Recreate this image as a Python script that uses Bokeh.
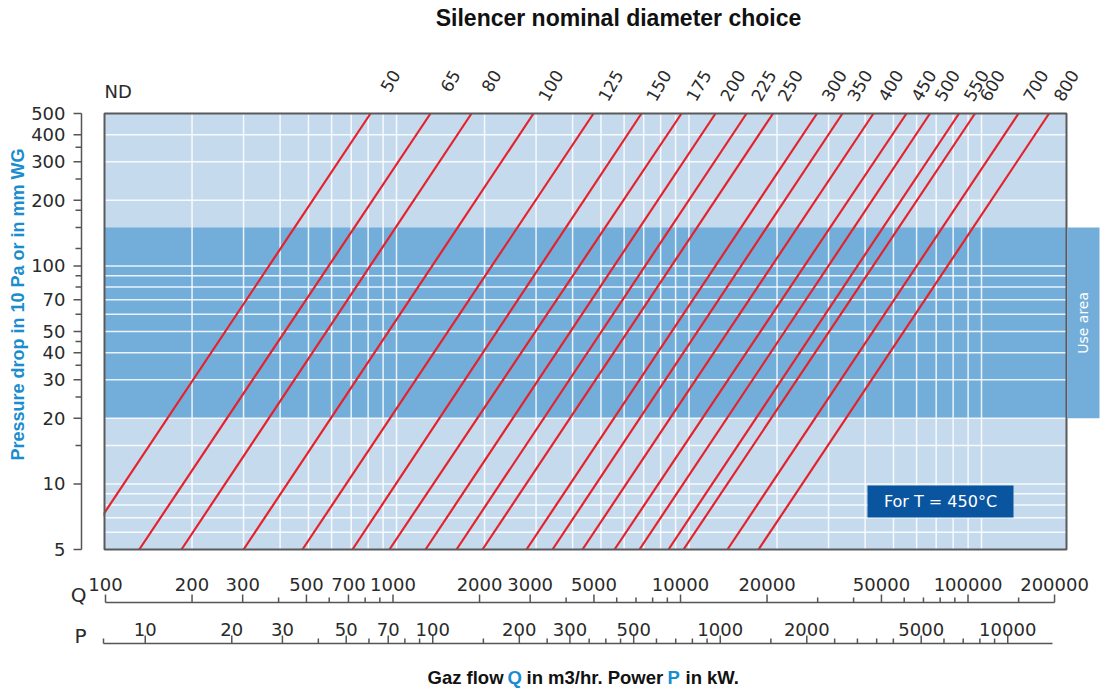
import math
from bokeh.plotting import figure
from bokeh.models import Range1d, LogScale
from bokeh.core.properties import value
from bokeh.embed import file_html
from bokeh.resources import INLINE

# ---------------- data ----------------
nd_labels = ["50", "65", "80", "100", "125", "150", "175", "200", "225", "250",
             "300", "350", "400", "450", "500", "550", "600", "700", "800"]
# gas flow (m3/hr) where each ND line meets pressure 5 and pressure 500
q_at_p5 = [82.8, 132, 184, 300, 477, 707, 946, 1257, 1604, 1968,
           2783, 3415, 4324, 5564, 6773, 8510, 9577, 13540, 17290]
q_at_p500 = [815, 1307, 1805, 2941, 4716, 6879, 9428, 12320, 15730, 19380,
             27390, 33480, 42730, 55410, 66660, 83780, 95020, 133800, 170200]
p_low, p_high = 5, 500
use_area = (20, 150)

y_major = [5, 10, 20, 30, 40, 50, 70, 100, 200, 300, 400, 500]
y_minor = [15, 25, 35, 45, 60, 80, 90, 120, 150, 180, 250, 350]
y_grid = [6, 7, 8, 9, 10, 15, 20, 30, 40, 50, 60, 70, 80, 90, 100, 200, 300, 400]
x_grid = [200, 300, 400, 500, 600, 700, 800, 900, 1000,
          2000, 3000, 4000, 5000, 6000, 7000, 8000, 9000, 10000,
          20000, 30000, 40000, 50000, 60000, 70000, 80000, 90000, 100000]

q_major = [100, 200, 300, 500, 700, 1000, 2000, 3000, 5000, 10000, 20000, 50000, 100000, 200000]
q_minor = [400, 600, 800, 900, 4000, 6000, 7000, 8000, 9000, 30000, 40000,
           60000, 70000, 80000, 90000, 150000]
p_major = [10, 20, 30, 50, 70, 100, 200, 300, 500, 1000, 2000, 5000, 10000]
p_minor = [40, 60, 80, 90, 150, 250, 350, 400, 450, 600, 700, 800, 900,
           1500, 2500, 3000, 3500, 4000, 6000, 7000, 8000, 9000]
q_bounds = (100, 200000)

# ---------------- layout (screen geometry) ----------------
W, H = 1100, 688
X100_PX, X_PPD = 103.5, 292.5      # main flow scale: px of Q=100, px per decade
Y5_PX, Y_PPD = 549.0, 218.0        # pressure scale: px of 5, px per decade
QAX_100_PX, QAX_PPD = 105.0, 287.5  # Q ruler under the chart
PAX_10_PX = 144.75                  # P ruler: px of P=10 (same px per decade)


def qx(px):
    return 10 ** (2 + (px - X100_PX) / X_PPD)


def py(px_y):
    return 5 * 10 ** ((Y5_PX - px_y) / Y_PPD)


def px_p(px):
    return 10 ** (1 + (px - PAX_10_PX) / QAX_PPD)


def px_q(px):
    return 10 ** (2 + (px - QAX_100_PX) / QAX_PPD)


plot_x = (qx(104), qx(1066))
y_axis_x = qx(81)
q_axis_y = py(602)
p_axis_y = py(643)
p_bounds = (px_p(103), px_p(1052))

LIGHT = "#C6DAEE"
BAND = "#73AEDB"
RED = "#E5222B"
BLUE_TXT = "#1A8DCF"
DARK_BOX = "#0A559F"
TXT = "#2a2a2a"
AXC = "#555555"
TICKFONT = "DejaVu Sans"
BOLDFONT = "Liberation Sans"

p = figure(width=W, height=H, output_backend="svg", toolbar_location=None,
           x_range=Range1d(qx(0), qx(W)), y_range=Range1d(py(H), py(0)),
           x_axis_type="log", y_axis_type="log",
           x_axis_location=None, y_axis_location=None,
           min_border_left=0, min_border_right=0, min_border_top=0, min_border_bottom=0)
p.xgrid.visible = False
p.ygrid.visible = False
p.background_fill_color = "white"
p.border_fill_color = "white"
p.outline_line_color = None

p.extra_x_ranges = {"q": Range1d(px_q(0), px_q(W)), "p": Range1d(px_p(0), px_p(W))}
p.extra_x_scales = {"q": LogScale(), "p": LogScale()}


def txt(x, y, s, size, color=TXT, font=TICKFONT, bold=False, align="center",
        baseline="middle", angle=0.0, xo=0, yo=0, rng="default"):
    p.text(x=x, y=y, text=s, x_range_name=rng, angle=angle, x_offset=xo, y_offset=yo,
           text_font=value(font), text_font_size=value(size), text_color=color,
           text_font_style=value("bold" if bold else "normal"),
           text_align=align, text_baseline=baseline)


# plot area background and band
p.quad(left=[plot_x[0]], right=[plot_x[1]], bottom=[p_low], top=[p_high],
       fill_color=LIGHT, line_color=None)
p.quad(left=[plot_x[0]], right=[plot_x[1]], bottom=[use_area[0]], top=[use_area[1]],
       fill_color=BAND, line_color=None)

# grid lines
p.segment(x0=x_grid, y0=p_low, x1=x_grid, y1=p_high, line_color="white",
          line_alpha=0.85, line_width=1.5)
p.segment(x0=plot_x[0], y0=y_grid, x1=plot_x[1], y1=y_grid, line_color="white",
          line_alpha=0.85, line_width=1.5)

# ND lines
p.segment(x0=q_at_p5, y0=p_low, x1=q_at_p500, y1=p_high, line_color=RED, line_width=2.2)

# white mask left of the plot area (the smallest ND line starts outside it)
p.quad(left=[qx(0)], right=[plot_x[0] * 10 ** (-1 / X_PPD)], bottom=[p_low], top=[p_high],
       fill_color="white", line_color=None)
# frame border
p.quad(left=[plot_x[0]], right=[plot_x[1]], bottom=[p_low], top=[p_high],
       fill_color=None, line_color="#5a5a5a", line_width=2)

# use area side box
p.quad(left=[plot_x[1] * 10 ** (1 / X_PPD)], right=[qx(1099)], bottom=[use_area[0]], top=[use_area[1]],
       fill_color=BAND, line_color=None)
txt([qx(1082)], [math.sqrt(use_area[0] * use_area[1])], ["Use area"], "14px", color="white",
    angle=math.pi / 2)

# temperature box
p.quad(left=[qx(867)], right=[qx(1013)], bottom=[py(517)], top=[py(485)],
       fill_color=DARK_BOX, line_color=None)
txt([qx(940)], [py(501)], ["For T = 450°C"], "16px", color="white")

# ND labels
txt(q_at_p500, [p_high] * len(q_at_p500), nd_labels, "17px", align="right",
    baseline="middle", angle=math.pi / 3, xo=25, yo=-42)
txt([plot_x[0]], [py(90.5)], ["ND"], "18px", align="left", baseline="middle")

# y axis
p.segment(x0=[y_axis_x], y0=[p_low], x1=[y_axis_x], y1=[p_high], line_color=AXC, line_width=1.5)
p.ray(x=[y_axis_x] * len(y_major), y=y_major, length=8, length_units="screen", angle=math.pi,
      line_color=AXC, line_width=1.5)
p.ray(x=[y_axis_x] * len(y_minor), y=y_minor, length=6, length_units="screen", angle=math.pi,
      line_color=AXC, line_width=1.5)
txt([y_axis_x] * len(y_major), y_major, [str(v) for v in y_major], "18px", align="right",
    baseline="middle", xo=-16)


# Q and P rulers
def ruler(rng, bounds, loc, major, minor, yo):
    p.segment(x0=[bounds[0]], y0=[loc], x1=[bounds[1]], y1=[loc], x_range_name=rng,
              line_color=AXC, line_width=1.5)
    p.ray(x=major, y=[loc] * len(major), length=8, length_units="screen", angle=math.pi / 2,
          x_range_name=rng, line_color=AXC, line_width=1.5)
    p.ray(x=minor, y=[loc] * len(minor), length=5, length_units="screen", angle=math.pi / 2,
          x_range_name=rng, line_color=AXC, line_width=1.5)
    txt(major, [loc] * len(major), [str(v) for v in major], "18px", align="center",
        baseline="middle", yo=yo, rng=rng)


ruler("q", q_bounds, q_axis_y, q_major, q_minor, -18)
ruler("p", p_bounds, p_axis_y, p_major, p_minor + [p_bounds[0]], -14.5)
txt([qx(86)], [py(594)], ["Q"], "20px", align="right", baseline="middle")
txt([qx(86)], [py(635)], ["P"], "20px", align="right", baseline="middle")

# title
txt([qx(618)], [py(17)], ["Silencer nominal diameter choice"], "23px", color="#111",
    font=BOLDFONT, bold=True)

# y axis title
txt([qx(17)], [py(304)], ["Pressure drop in 10 Pa or in mm WG"], "18px", color=BLUE_TXT,
    font=BOLDFONT, bold=True, angle=math.pi / 2)

# bottom caption, split for colours
caption = [("Gaz flow", "#111", 427), ("Q", BLUE_TXT, 507), ("in m3/hr. Power", "#111", 526),
           ("P", BLUE_TXT, 667), ("in kW.", "#111", 685)]
for s, col, xpx in caption:
    txt([qx(xpx)], [py(677)], [s], "18.5px", color=col, font=BOLDFONT, bold=True,
        align="left", baseline="middle")

open("out.html", "w").write(file_html(p, INLINE))
